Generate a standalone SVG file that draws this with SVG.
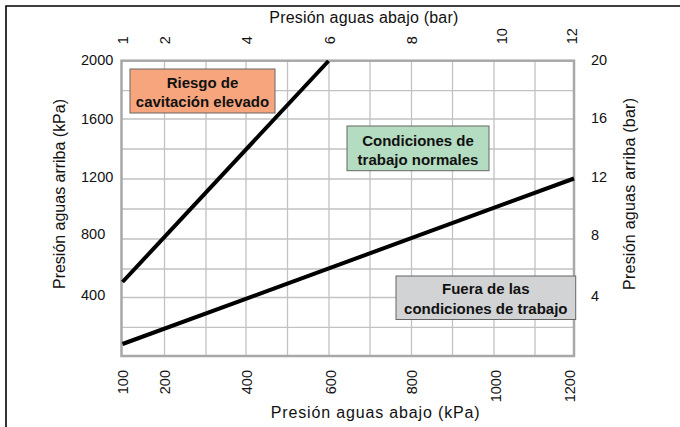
<svg xmlns="http://www.w3.org/2000/svg" width="680" height="427" viewBox="0 0 680 427">
<style>
text{font-family:"Liberation Sans",Arial,sans-serif;fill:#111}
.tick{font-size:14.5px}
.title{font-size:16px}
.lbl{font-size:15px;font-weight:bold;text-anchor:middle}
.grid{stroke:#c2c2c2;stroke-width:1.3;fill:none}
.curve{stroke:#000;stroke-width:4;fill:none}
.box{stroke:#666;stroke-width:1}
</style>
<rect width="680" height="427" fill="#fff"/>
<path d="M6,427 V6 H680" fill="none" stroke="#000" stroke-width="1.6"/>
<g id="grid">
<path class="grid" d="M164.5,60.7V356M206,60.7V356M246,60.7V356M287.5,60.7V356M329,60.7V356M370,60.7V356M411.5,60.7V356M452.5,60.7V356M494,60.7V356M535,60.7V356"/>
<path class="grid" d="M121.5,90.7H574M121.5,119H574M121.5,149H574M121.5,179H574M121.5,209H574M121.5,239H574M121.5,269H574M121.5,297.5H574M121.5,327.3H574"/>
<rect x="121.5" y="60.7" width="452.5" height="295.3" fill="none" stroke="#a8a8a8" stroke-width="2.5"/>
</g>
<g id="curves">
<path class="curve" d="M122.5,282 L328.5,61"/>
<path class="curve" d="M122.5,344 L574,178.5"/>
</g>
<g id="axis-top">
<text class="title" x="269.3" y="22.7" textLength="189" lengthAdjust="spacing">Presión aguas abajo (bar)</text>
<text class="tick" transform="translate(127.5,44.3) rotate(-90)">1</text>
<text class="tick" transform="translate(170,44.3) rotate(-90)">2</text>
<text class="tick" transform="translate(251.5,44.3) rotate(-90)">4</text>
<text class="tick" transform="translate(335,44.3) rotate(-90)">6</text>
<text class="tick" transform="translate(416.7,44.3) rotate(-90)">8</text>
<text class="tick" transform="translate(506.7,44.3) rotate(-90)">10</text>
<text class="tick" transform="translate(576.7,44.3) rotate(-90)">12</text>
</g>
<g id="axis-bottom">
<text class="title" x="270.7" y="418.3" textLength="209" lengthAdjust="spacing">Presión aguas abajo (kPa)</text>
<g text-anchor="end">
<text class="tick" transform="translate(127.8,370) rotate(-90)">100</text>
<text class="tick" transform="translate(169.7,370) rotate(-90)">200</text>
<text class="tick" transform="translate(252.2,370) rotate(-90)">400</text>
<text class="tick" transform="translate(335.5,370) rotate(-90)">600</text>
<text class="tick" transform="translate(416.7,370) rotate(-90)">800</text>
<text class="tick" transform="translate(500.8,370) rotate(-90)">1000</text>
<text class="tick" transform="translate(574.8,370) rotate(-90)">1200</text>
</g>
</g>
<g id="axis-left">
<text class="title" transform="translate(65,194) rotate(-90)" text-anchor="middle" textLength="190" lengthAdjust="spacing">Presión aguas arriba (kPa)</text>
<text class="tick" x="81" y="65.3">2000</text>
<text class="tick" x="81" y="123.5">1600</text>
<text class="tick" x="81" y="181.7">1200</text>
<text class="tick" x="81" y="239.3">800</text>
<text class="tick" x="81" y="300">400</text>
</g>
<g id="axis-right">
<text class="title" transform="translate(635,194) rotate(-90)" text-anchor="middle" textLength="192" lengthAdjust="spacing">Presión aguas arriba (bar)</text>
<text class="tick" x="591" y="65">20</text>
<text class="tick" x="591" y="123.3">16</text>
<text class="tick" x="591" y="181.7">12</text>
<text class="tick" x="591" y="240">8</text>
<text class="tick" x="591" y="300.7">4</text>
</g>
<g id="riesgo">
<rect class="box" x="130" y="69" width="145" height="44" fill="#f7a57d"/>
<text class="lbl" x="202.5" y="87.5">Riesgo de</text>
<text class="lbl" x="202.5" y="107">cavitación elevado</text>
</g>
<g id="normales">
<rect class="box" x="347" y="126" width="142" height="44.7" fill="#b4dcc1"/>
<text class="lbl" x="418" y="145.7">Condiciones de</text>
<text class="lbl" x="418" y="165.3">trabajo normales</text>
</g>
<g id="fuera">
<rect class="box" x="396" y="276" width="179.7" height="43.5" fill="#d2d3d5"/>
<text class="lbl" x="485.8" y="294">Fuera de las</text>
<text class="lbl" x="485.8" y="314.3">condiciones de trabajo</text>
</g>
</svg>
